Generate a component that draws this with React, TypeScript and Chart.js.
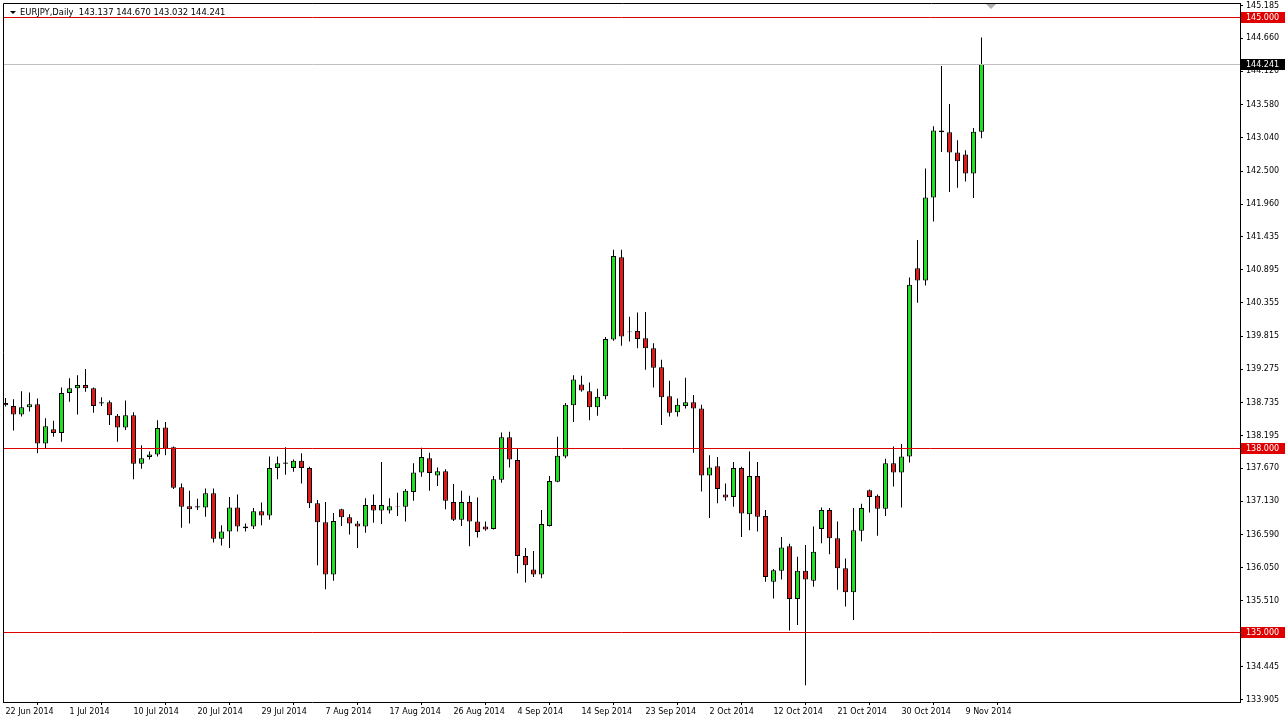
import React, { useEffect, useRef } from "react";
import { Chart, registerables } from "chart.js";

Chart.register(...registerables);

const titleSymbol = "EURJPY,Daily";
const titleQuotes = ["143.137", "144.670", "143.032", "144.241"];

const opens = [
  138.73, 138.68, 138.54, 138.66, 138.71, 138.07, 138.30, 138.24, 138.89, 138.97,
  139.02, 138.97, 138.74, 138.74, 138.52, 138.33, 138.53, 137.74, 137.85, 137.89,
  138.33, 138.01, 137.36, 137.05, 137.05, 137.03, 137.26, 136.52, 136.64, 137.03,
  136.69, 136.72, 136.97, 136.90, 137.67, 137.76, 137.67, 137.79, 137.67, 137.10,
  136.79, 135.94, 137.00, 136.87, 136.77, 136.72, 137.07, 136.98, 136.98, 137.05,
  137.04, 137.28, 137.60, 137.83, 137.55, 137.62, 137.12, 136.83, 137.12, 136.80,
  136.72, 136.68, 137.48, 138.17, 137.80, 136.24, 136.02, 135.94, 136.73, 137.45,
  137.86, 138.69, 139.03, 138.92, 138.66, 138.84, 139.76, 141.10, 139.89, 139.90,
  139.78, 139.62, 139.31, 138.84, 138.58, 138.68, 138.74, 138.64, 137.55, 137.70,
  137.24, 137.20, 137.67, 136.92, 137.54, 136.89, 135.82, 136.00, 136.40, 135.54,
  136.00, 135.84, 136.68, 136.99, 136.53, 136.04, 135.65, 136.65, 137.31, 137.22,
  137.01, 137.75, 137.60, 137.86, 140.92, 140.72, 142.07, 143.16, 143.13, 142.80,
  142.77, 142.46, 143.137,
];

const highs = [
  138.81, 138.79, 138.92, 138.90, 138.80, 138.48, 138.44, 138.98, 139.13, 139.18,
  139.28, 138.98, 138.82, 138.77, 138.55, 138.77, 138.58, 138.04, 137.94, 138.45,
  138.42, 138.02, 137.42, 137.30, 137.17, 137.34, 137.34, 136.74, 137.20, 137.24,
  136.77, 137.02, 137.11, 137.86, 137.86, 138.01, 137.81, 137.91, 137.69, 137.15,
  137.12, 136.94, 137.01, 136.92, 136.81, 137.18, 137.24, 137.77, 137.18, 137.27,
  137.33, 137.75, 138.00, 137.92, 137.68, 137.65, 137.41, 137.30, 137.22, 137.19,
  136.80, 137.54, 138.25, 138.26, 137.99, 136.37, 136.32, 136.99, 137.54, 138.18,
  138.73, 139.18, 139.17, 139.06, 138.96, 139.80, 141.22, 141.22, 140.13, 140.20,
  140.21, 139.70, 139.43, 139.09, 138.80, 139.14, 138.86, 138.70, 137.88, 137.85,
  137.42, 137.77, 137.69, 137.94, 137.77, 136.99, 136.03, 136.55, 136.44, 136.23,
  136.42, 136.72, 137.03, 137.02, 136.80, 136.20, 137.02, 137.09, 137.32, 137.24,
  137.82, 138.02, 138.06, 140.77, 141.38, 142.54, 143.23, 144.21, 143.59, 143.00,
  142.84, 143.20, 144.670,
];

const lows = [
  138.67, 138.28, 138.51, 138.59, 137.91, 137.98, 138.18, 138.10, 138.75, 138.54,
  138.91, 138.57, 138.68, 138.37, 138.10, 138.29, 137.49, 137.66, 137.81, 137.86,
  137.88, 137.33, 136.70, 136.77, 136.99, 136.88, 136.46, 136.41, 136.37, 136.64,
  136.64, 136.68, 136.74, 136.83, 137.49, 137.56, 137.61, 137.42, 137.02, 136.09,
  135.70, 135.84, 136.73, 136.59, 136.37, 136.62, 136.78, 136.76, 136.93, 136.89,
  136.80, 137.14, 137.53, 137.30, 137.38, 137.00, 136.81, 136.73, 136.40, 136.54,
  136.65, 136.67, 137.43, 137.68, 135.96, 135.81, 135.90, 135.88, 136.72, 137.44,
  137.83, 138.42, 138.91, 138.45, 138.52, 138.79, 139.74, 139.66, 139.73, 139.62,
  139.27, 138.98, 138.37, 138.51, 138.51, 138.64, 137.92, 137.29, 136.86, 137.10,
  137.14, 137.04, 136.55, 136.66, 136.64, 135.82, 135.55, 135.86, 135.03, 135.12,
  134.14, 135.74, 136.45, 136.27, 135.69, 135.42, 135.20, 136.48, 136.95, 136.57,
  136.89, 137.37, 137.03, 137.76, 140.36, 140.64, 141.68, 142.81, 142.16, 142.23,
  142.33, 142.06, 143.032,
];

const closes = [
  138.69, 138.54, 138.66, 138.71, 138.07, 138.35, 138.24, 138.89, 138.97, 139.02,
  138.97, 138.68, 138.72, 138.53, 138.33, 138.53, 137.74, 137.83, 137.89, 138.32,
  137.99, 137.35, 137.04, 137.00, 137.03, 137.26, 136.52, 136.64, 137.03, 136.72,
  136.72, 136.97, 136.90, 137.67, 137.75, 137.74, 137.79, 137.67, 137.10, 136.79,
  135.94, 136.81, 136.87, 136.77, 136.72, 137.07, 136.98, 137.07, 137.05, 137.04,
  137.30, 137.60, 137.85, 137.59, 137.62, 137.14, 136.83, 137.12, 136.80, 136.63,
  136.67, 137.49, 138.17, 137.81, 136.24, 136.09, 135.94, 136.76, 137.46, 137.87,
  138.70, 139.11, 138.93, 138.66, 138.83, 139.77, 141.12, 139.81, 139.88, 139.77,
  139.62, 139.30, 138.82, 138.57, 138.70, 138.74, 138.64, 137.55, 137.68, 137.33,
  137.19, 137.67, 136.93, 137.54, 136.88, 135.90, 136.01, 136.38, 135.54, 136.00,
  135.86, 136.31, 136.99, 136.53, 136.04, 135.65, 136.66, 137.02, 137.20, 137.01,
  137.75, 137.60, 137.86, 140.65, 140.72, 142.07, 143.16, 143.13, 142.80, 142.66,
  142.46, 143.14, 144.241,
];

const xTickIndex = [0, 8, 16, 24, 32, 40, 48, 56, 64, 72, 80, 88, 96, 104, 112, 120];
const xTickLabels = [
  "22 Jun 2014", "1 Jul 2014", "10 Jul 2014", "20 Jul 2014", "29 Jul 2014", "7 Aug 2014",
  "17 Aug 2014", "26 Aug 2014", "4 Sep 2014", "14 Sep 2014", "23 Sep 2014", "2 Oct 2014",
  "12 Oct 2014", "21 Oct 2014", "30 Oct 2014", "9 Nov 2014",
];

const yTickValues = [
  145.185, 144.66, 144.12, 143.58, 143.04, 142.5, 141.96, 141.435, 140.895, 140.355,
  139.815, 139.275, 138.735, 138.195, 137.67, 137.13, 136.59, 136.05, 135.51, 134.985,
  134.445, 133.905,
];

const levelLines = [145.0, 138.0, 135.0];
const bidPrice = 144.241;

const BULL = "#1fe01f";
const BEAR = "#e01818";
const LEVEL = "#e00000";
const FONT = "DejaVu Sans";

const overlayPlugin = {
  id: "mt4Overlay",
  afterDatasetsDraw(chart: any) {
    const { ctx, chartArea } = chart;
    const y = chart.scales.y;
    ctx.save();
    ctx.lineWidth = 1;
    const by = Math.round(y.getPixelForValue(bidPrice)) + 0.5;
    ctx.strokeStyle = "#c0c0c0";
    ctx.beginPath();
    ctx.moveTo(chartArea.left, by);
    ctx.lineTo(chartArea.right, by);
    ctx.stroke();
    ctx.strokeStyle = LEVEL;
    for (const v of levelLines) {
      const py = Math.round(y.getPixelForValue(v)) + 0.5;
      ctx.beginPath();
      ctx.moveTo(chartArea.left, py);
      ctx.lineTo(chartArea.right, py);
      ctx.stroke();
    }
    ctx.restore();
  },
  afterDraw(chart: any) {
    const { ctx, chartArea } = chart;
    const y = chart.scales.y;
    ctx.save();
    ctx.strokeStyle = "#000";
    ctx.lineWidth = 1;
    ctx.beginPath();
    ctx.moveTo(chartArea.left + 0.5, chartArea.bottom);
    ctx.lineTo(chartArea.left + 0.5, chartArea.top + 0.5);
    ctx.lineTo(chartArea.right + 1, chartArea.top + 0.5);
    ctx.stroke();

    ctx.font = `8px "${FONT}"`;
    ctx.textBaseline = "middle";
    ctx.textAlign = "left";
    const box = (v: number, bg: string) => {
      const py = Math.round(y.getPixelForValue(v));
      ctx.fillStyle = bg;
      ctx.fillRect(chartArea.right + 1, py - 5, 44, 11);
      ctx.fillStyle = "#fff";
      ctx.fillText(v.toFixed(3), chartArea.right + 6, py + 0.5);
    };
    for (const v of levelLines) box(v, "#e00000");
    box(bidPrice, "#000");

    ctx.fillStyle = "#000";
    ctx.beginPath();
    ctx.moveTo(10, 11);
    ctx.lineTo(16, 11);
    ctx.lineTo(13, 14);
    ctx.closePath();
    ctx.fill();
    ctx.font = `8.4px "${FONT}"`;
    ctx.fillText(titleSymbol + "  " + titleQuotes.join(" "), 20, 12.5);

    ctx.fillStyle = "#b0b0b0";
    ctx.beginPath();
    ctx.moveTo(986, 4);
    ctx.lineTo(996, 4);
    ctx.lineTo(991, 9);
    ctx.closePath();
    ctx.fill();
    ctx.restore();
  },
};

export default function App() {
  const canvasRef = useRef<HTMLCanvasElement | null>(null);

  useEffect(() => {
    const canvas = canvasRef.current;
    if (!canvas) return;
    const idx = opens.map((_, i) => i);
    const wickData = idx.map((i) => ({ x: i, y: [lows[i], highs[i]] }));
    const bodyData = idx.map((i) => ({ x: i, y: [opens[i], closes[i]] }));
    const bodyColors = idx.map((i) => (closes[i] >= opens[i] ? BULL : BEAR));

    const chart = new Chart(canvas, {
      type: "bar",
      data: {
        datasets: [
          {
            data: wickData as any,
            backgroundColor: "#000",
            borderWidth: 0,
            barThickness: 1,
            inflateAmount: 0,
            grouped: false,
            order: 2,
          } as any,
          {
            data: bodyData as any,
            backgroundColor: bodyColors,
            borderColor: "#000",
            borderWidth: 1,
            borderSkipped: false,
            barThickness: 5,
            inflateAmount: 0,
            grouped: false,
            order: 1,
          } as any,
        ],
      },
      options: {
        animation: false,
        responsive: false,
        devicePixelRatio: 1,
        events: [],
        layout: { padding: { left: 3, top: 3, right: 0, bottom: 0 } },
        plugins: { legend: { display: false }, tooltip: { enabled: false } },
        scales: {
          x: {
            type: "linear",
            position: "bottom",
            min: -0.3125,
            max: 154.3125,
            offset: false,
            grid: { display: true, drawOnChartArea: false, drawTicks: true, tickLength: 3, color: "#000" },
            border: { display: true, color: "#000", width: 1 },
            ticks: {
              align: "start",
              padding: 2,
              autoSkip: false,
              maxRotation: 0,
              color: "#000",
              font: { family: FONT, size: 8 },
              callback: (v: any) => {
                const k = xTickIndex.indexOf(Number(v));
                return k >= 0 ? xTickLabels[k] : "";
              },
            },
            afterBuildTicks: (s: any) => {
              s.ticks = xTickIndex.map((v) => ({ value: v }));
            },
            afterFit: (s: any) => {
              s.height = 20;
              s.paddingLeft = 0;
              s.paddingRight = 0;
            },
          } as any,
          y: {
            type: "linear",
            position: "right",
            min: 133.8667,
            max: 145.2325,
            grid: { display: true, drawOnChartArea: false, drawTicks: true, tickLength: 3, color: "#000" },
            border: { display: true, color: "#000", width: 1 },
            ticks: {
              padding: 3,
              autoSkip: false,
              color: "#000",
              font: { family: FONT, size: 8 },
              callback: (v: any) => Number(v).toFixed(3),
            },
            afterBuildTicks: (s: any) => {
              s.ticks = yTickValues.map((v) => ({ value: v }));
            },
            afterFit: (s: any) => {
              s.width = 45;
              s.paddingTop = 0;
              s.paddingBottom = 0;
            },
          } as any,
        },
      },
      plugins: [overlayPlugin],
    });
    return () => chart.destroy();
  }, []);

  return (
    <div style={{ position: "absolute", left: 0, top: 0, width: 1285, height: 722, background: "#fff" }}>
      <canvas ref={canvasRef} width={1285} height={722} style={{ display: "block" }} />
    </div>
  );
}
